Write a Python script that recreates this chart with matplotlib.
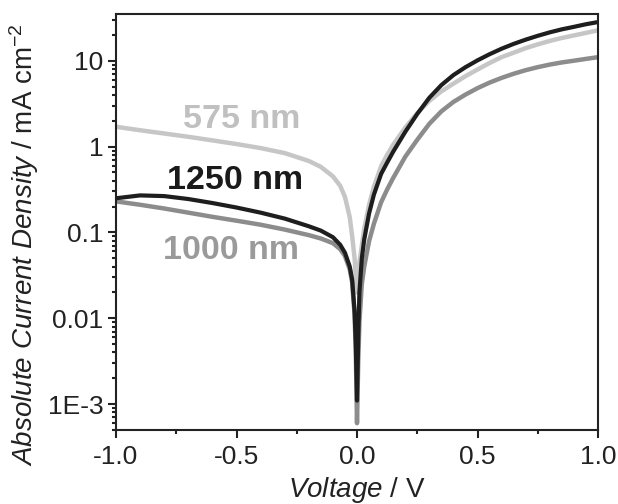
import numpy as np
import matplotlib
matplotlib.use('Agg')
import matplotlib.pyplot as plt

plt.rcParams['font.family'] = ['Liberation Sans', 'DejaVu Sans']
plt.rcParams['mathtext.fontset'] = 'custom'
plt.rcParams['mathtext.rm'] = 'Liberation Sans'
plt.rcParams['mathtext.it'] = 'Liberation Sans:italic'

voltage = [-1.0, -0.9, -0.8, -0.7, -0.6, -0.5, -0.4, -0.3, -0.2, -0.15, -0.1, -0.07, -0.05,
           -0.03, -0.02, -0.01, -0.005, 0.0, 0.005, 0.01, 0.02, 0.03, 0.05, 0.07, 0.1,
           0.125, 0.15, 0.2, 0.25, 0.3, 0.35, 0.4, 0.45, 0.5, 0.55, 0.6, 0.65, 0.7,
           0.75, 0.8, 0.85, 0.9, 0.95, 1.0]

# |J| in mA cm^-2 for each excitation wavelength
j_575 = [1.7, 1.55, 1.42, 1.3, 1.18, 1.07, 0.96, 0.84, 0.68, 0.58, 0.45, 0.35, 0.26,
         0.15, 0.09, 0.05, 0.03, 0.02, 0.03, 0.045, 0.07, 0.11, 0.21, 0.34, 0.59,
         0.8, 1.05, 1.66, 2.45, 3.4, 4.4, 5.4, 6.6, 7.9, 9.4, 11.0, 12.4, 14.0,
         15.5, 17.0, 18.4, 19.7, 21.1, 22.6]
j_1000 = [0.23, 0.21, 0.19, 0.17, 0.152, 0.137, 0.123, 0.108, 0.093, 0.085, 0.075, 0.064, 0.053,
          0.037, 0.026, 0.011, 0.004, 0.0006, 0.003, 0.009, 0.025, 0.04, 0.079, 0.126, 0.224,
          0.316, 0.43, 0.76, 1.2, 1.84, 2.57, 3.31, 4.03, 4.79, 5.56, 6.31, 7.05, 7.76,
          8.41, 9.02, 9.55, 10.0, 10.5, 11.0]
j_1250 = [0.25, 0.27, 0.265, 0.245, 0.22, 0.195, 0.17, 0.145, 0.118, 0.105, 0.088, 0.072, 0.058,
          0.04, 0.028, 0.012, 0.005, 0.0011, 0.006, 0.02, 0.05, 0.083, 0.166, 0.275, 0.48,
          0.65, 0.87, 1.48, 2.4, 3.7, 5.2, 6.8, 8.4, 10.1, 11.9, 13.8, 15.7, 17.6,
          19.5, 21.4, 23.2, 24.8, 26.6, 28.2]

labels = ['575 nm', '1250 nm', '1000 nm']
line_colors = ['#c6c6c6', '#8c8c8c', '#1e1e1e']
text_colors = ['#c0c0c0', '#1a1a1a', '#9a9a9a']

fig = plt.figure(figsize=(6.18, 5.04), dpi=100)
ax = fig.add_axes([116 / 618, 1 - 430 / 504, 482 / 618, 416 / 504])

ax.plot(voltage, j_575, color=line_colors[0], lw=3.2, solid_capstyle='butt')
ax.plot(voltage, j_1000, color=line_colors[1], lw=3.2, solid_capstyle='butt')
ax.plot(voltage, j_1250, color=line_colors[2], lw=3.0, solid_capstyle='butt')

ax.set_yscale('log')
ax.set_xlim(-1.0, 1.0)
ax.set_ylim(5e-4, 35)

ax.set_xticks([-1.0, -0.5, 0.0, 0.5, 1.0])
ax.set_xticklabels(['-1.0', '-0.5', '0.0', '0.5', '1.0'])
ax.set_xticks([-0.75, -0.25, 0.25, 0.75], minor=True)
ax.set_yticks([1e-3, 1e-2, 1e-1, 1, 10])
ax.set_yticklabels(['1E-3', '0.01', '0.1', '1', '10'])

for s in ax.spines.values():
    s.set_linewidth(1.5)
    s.set_color('#222222')
ax.tick_params(which='both', direction='out', top=False, right=False, width=1.5, colors='#222222')
ax.tick_params(which='major', length=6, labelsize=19, pad=3)
ax.tick_params(axis='x', which='major', pad=5)
ax.tick_params(which='minor', length=3)

ax.set_xlabel(r'$\mathit{Voltage}$ / V', fontsize=20, labelpad=4, color='#222222')
ax.set_ylabel(r'$\mathit{Absolute\ Current\ Density}$ / mA cm$^{-2}$', fontsize=20,
              color='#222222')
ax.yaxis.set_label_coords(-0.155, 0.445)

ax.text(-0.48, 2.07, labels[0], color=text_colors[0], fontsize=24.5, fontweight='bold',
        ha='center', va='center')
ax.text(-0.506, 0.40, labels[1], color=text_colors[1], fontsize=24.5, fontweight='bold',
        ha='center', va='center')
ax.text(-0.523, 0.062, labels[2], color=text_colors[2], fontsize=24.5, fontweight='bold',
        ha='center', va='center')

fig.savefig('out.png', dpi=100)
